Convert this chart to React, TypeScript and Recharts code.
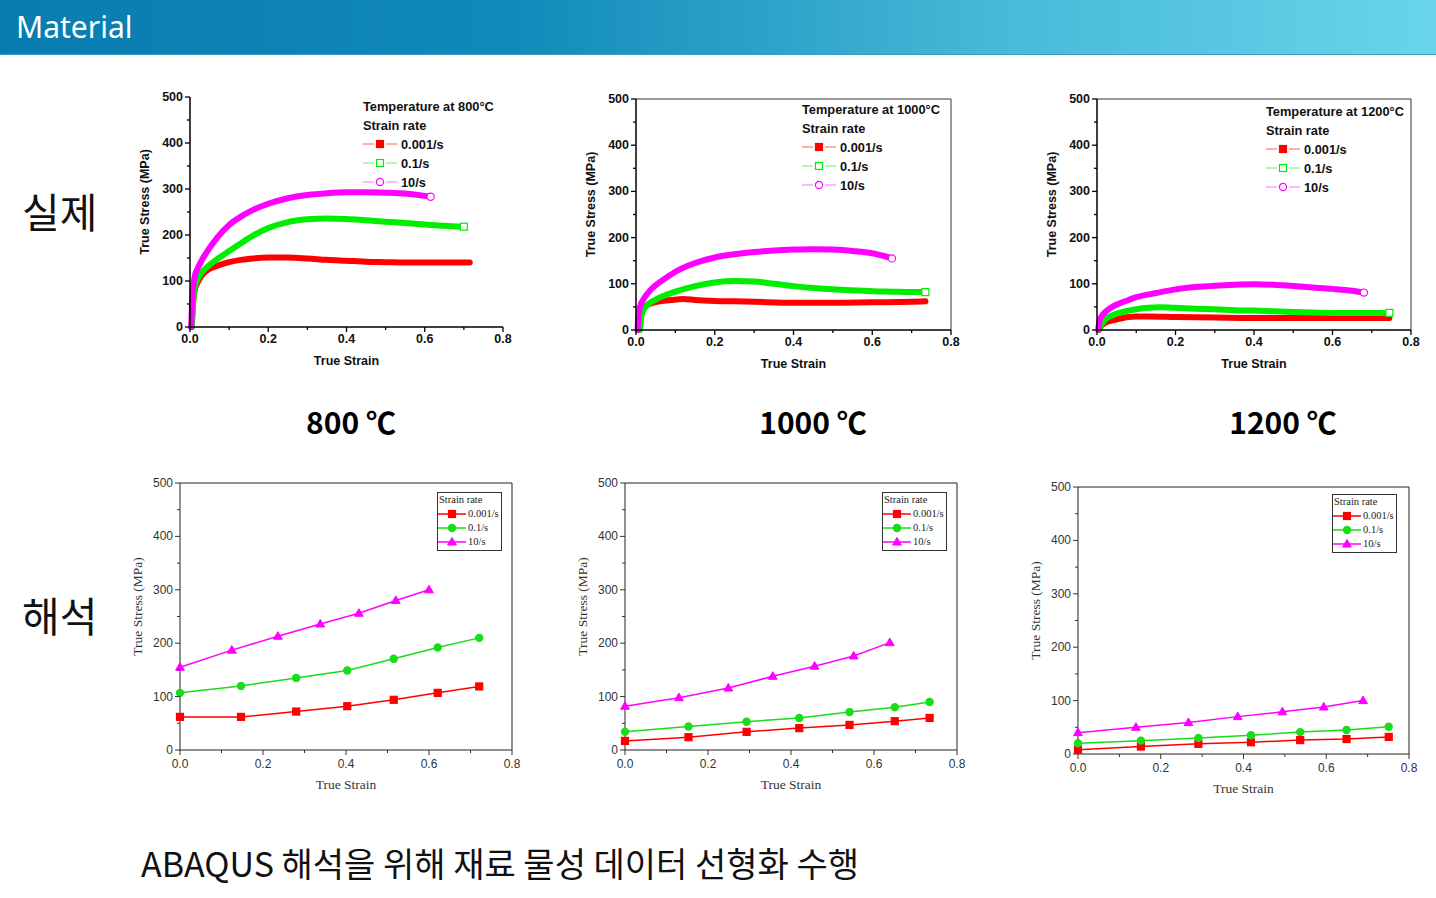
import React from "react";
import { LineChart, Line, XAxis, YAxis, ReferenceLine } from "recharts";

type Pair = [number, number];
type Mark = "square" | "circle" | "triangle";

// axes
const STRAIN_TICKS = [0, 0.1, 0.2, 0.3, 0.4, 0.5, 0.6, 0.7, 0.8];
const STRESS_TICKS = [0, 50, 100, 150, 200, 250, 300, 350, 400, 450, 500];
const RATE_LABELS = ["0.001/s", "0.1/s", "10/s"];
const TEMPS = ["800", "1000", "1200"];

// measured flow curves (true strain, true stress MPa)
const exp800Slow: Pair[] = [
  [0.004, 0], [0.008, 55], [0.012, 80], [0.02, 98], [0.03, 112], [0.045, 124], [0.06, 130],
  [0.08, 136], [0.1, 141], [0.13, 146], [0.16, 149], [0.2, 151], [0.25, 151], [0.3, 149],
  [0.35, 146], [0.4, 144], [0.45, 142], [0.5, 141], [0.55, 140], [0.6, 140], [0.65, 140], [0.715, 140],
];
const exp800Mid: Pair[] = [
  [0.005, 0], [0.008, 50], [0.012, 85], [0.02, 105], [0.03, 118], [0.05, 135], [0.07, 148],
  [0.1, 165], [0.13, 182], [0.16, 198], [0.2, 215], [0.25, 228], [0.3, 234], [0.35, 236],
  [0.4, 235], [0.45, 232], [0.5, 229], [0.55, 226], [0.6, 223], [0.65, 220], [0.7, 218],
];
const exp800Fast: Pair[] = [
  [0.003, 0], [0.005, 45], [0.008, 85], [0.012, 110], [0.02, 128], [0.03, 145], [0.05, 172],
  [0.07, 195], [0.1, 222], [0.13, 240], [0.16, 254], [0.2, 268], [0.25, 280], [0.3, 287],
  [0.35, 291], [0.4, 293], [0.45, 293], [0.5, 292], [0.55, 290], [0.6, 285], [0.615, 283],
];
const exp1000Slow: Pair[] = [
  [0.005, 0], [0.01, 25], [0.015, 42], [0.025, 52], [0.04, 58], [0.06, 62], [0.09, 65],
  [0.12, 67], [0.15, 65], [0.2, 63], [0.25, 62], [0.3, 61], [0.4, 59], [0.5, 59], [0.6, 60],
  [0.7, 61], [0.735, 62],
];
const exp1000Mid: Pair[] = [
  [0.01, 0], [0.013, 25], [0.018, 42], [0.03, 55], [0.05, 66], [0.08, 77], [0.1, 83],
  [0.15, 95], [0.2, 103], [0.25, 106], [0.3, 105], [0.35, 100], [0.4, 95], [0.45, 91],
  [0.5, 88], [0.55, 86], [0.6, 84], [0.65, 83], [0.7, 82], [0.735, 82],
];
const exp1000Fast: Pair[] = [
  [0.004, 0], [0.006, 30], [0.01, 50], [0.02, 68], [0.035, 85], [0.05, 97], [0.08, 115],
  [0.1, 126], [0.15, 145], [0.2, 157], [0.25, 164], [0.3, 169], [0.35, 172], [0.4, 174],
  [0.45, 175], [0.5, 174], [0.55, 171], [0.6, 166], [0.65, 155],
];
const exp1200Slow: Pair[] = [
  [0.005, 0], [0.01, 8], [0.02, 15], [0.04, 21], [0.06, 25], [0.08, 28], [0.1, 29],
  [0.13, 29], [0.2, 28], [0.3, 27], [0.4, 26], [0.5, 26], [0.6, 26], [0.7, 26], [0.745, 26],
];
const exp1200Mid: Pair[] = [
  [0.005, 0], [0.01, 10], [0.02, 22], [0.04, 32], [0.07, 40], [0.1, 45], [0.13, 48],
  [0.16, 49], [0.2, 48], [0.25, 46], [0.3, 45], [0.35, 43], [0.4, 42], [0.5, 39], [0.6, 37],
  [0.7, 37], [0.745, 37],
];
const exp1200Fast: Pair[] = [
  [0.003, 0], [0.006, 18], [0.012, 30], [0.02, 38], [0.035, 48], [0.05, 55], [0.08, 65],
  [0.1, 71], [0.15, 80], [0.2, 88], [0.25, 93], [0.3, 96], [0.35, 98], [0.4, 99], [0.45, 98],
  [0.5, 95], [0.55, 92], [0.6, 89], [0.65, 85], [0.68, 81],
];

// linearised input for ABAQUS
const sim800Slow: Pair[] = [[0, 62], [0.147, 62], [0.28, 72], [0.403, 82], [0.515, 94], [0.621, 107], [0.721, 119]];
const sim800Mid: Pair[] = [[0, 107], [0.147, 120], [0.28, 135], [0.403, 149], [0.515, 171], [0.621, 192], [0.721, 210]];
const sim800Fast: Pair[] = [[0, 155], [0.125, 187], [0.236, 213], [0.338, 236], [0.431, 256], [0.52, 280], [0.6, 300]];
const sim1000Slow: Pair[] = [[0, 17], [0.153, 24], [0.293, 34], [0.42, 41], [0.541, 47], [0.65, 54], [0.734, 60]];
const sim1000Mid: Pair[] = [[0, 34], [0.153, 44], [0.293, 53], [0.42, 60], [0.541, 71], [0.65, 80], [0.734, 90]];
const sim1000Fast: Pair[] = [[0, 82], [0.13, 98], [0.249, 116], [0.356, 138], [0.457, 157], [0.551, 176], [0.638, 201]];
const sim1200Slow: Pair[] = [[0, 8], [0.152, 14], [0.291, 19], [0.418, 22], [0.537, 26], [0.649, 28], [0.751, 32]];
const sim1200Mid: Pair[] = [[0, 20], [0.152, 25], [0.291, 30], [0.418, 35], [0.537, 41], [0.649, 45], [0.751, 51]];
const sim1200Fast: Pair[] = [[0, 40], [0.14, 50], [0.267, 59], [0.386, 70], [0.494, 79], [0.594, 88], [0.689, 100]];

const RED = "#ff0000";
const GREEN = "#00ee00";
const MAGENTA = "#ff00ff";
const SIM_GREEN = "#19dd19";

const SANS = '"Liberation Sans", Arial, sans-serif';
const SERIF = '"Liberation Serif", "Times New Roman", serif';
const KR = '"Noto Sans CJK KR", "Noto Sans", sans-serif';

const EXP_TEXT = { fontFamily: SANS, fontWeight: 700, fontSize: 12.5, fill: "#111" };
const SIM_TICK_TEXT = { fontFamily: SANS, fontSize: 12, fill: "#333" };
const SIM_TITLE_TEXT = { fontFamily: SERIF, fontSize: 13.5, fill: "#333" };

const ML = 70;
const MT = 10;
const MR = 20;
const XH = 50;

interface SeriesDef {
  color: string;
  pairs: Pair[];
  mark: Mark;
}

const toPts = (pairs: Pair[]) => pairs.map(([x, y]) => ({ x, y }));

function StrainTick(props: any) {
  const { x, y, payload, sim } = props;
  const v = payload.value as number;
  const major = Math.round(v * 10) % 2 === 0;
  const len = major ? 5 : 3;
  return (
    <g>
      <line x1={x} x2={x} y1={y} y2={y + len} stroke={sim ? "#333" : "#000"} strokeWidth={sim ? 1 : 1.3} />
      {major && (
        <text x={x} y={y + (sim ? 14 : 12)} textAnchor="middle" dominantBaseline="central" style={sim ? SIM_TICK_TEXT : EXP_TEXT}>
          {v.toFixed(1)}
        </text>
      )}
    </g>
  );
}

function StressTick(props: any) {
  const { x, y, payload, sim } = props;
  const v = payload.value as number;
  const major = v % 100 === 0;
  const len = major ? 5 : 3;
  return (
    <g>
      <line x1={x - len} x2={x} y1={y} y2={y} stroke={sim ? "#333" : "#000"} strokeWidth={sim ? 1 : 1.3} />
      {major && (
        <text x={x - 7} y={y} textAnchor="end" dominantBaseline="central" style={sim ? SIM_TICK_TEXT : EXP_TEXT}>
          {v}
        </text>
      )}
    </g>
  );
}

function drawMark(mark: Mark, cx: number, cy: number, color: string, open: boolean, key?: any) {
  const fill = open ? "#fff" : color;
  if (mark === "square")
    return <rect key={key} x={cx - 3.5} y={cy - 3.5} width={7} height={7} fill={fill} stroke={color} strokeWidth={1.2} />;
  if (mark === "circle") return <circle key={key} cx={cx} cy={cy} r={3.6} fill={fill} stroke={color} strokeWidth={1.2} />;
  return (
    <path key={key} d={`M${cx},${cy - 4.6}L${cx + 4.4},${cy + 3}L${cx - 4.4},${cy + 3}Z`} fill={fill} stroke={color} strokeWidth={1} />
  );
}

function Panel({ box, series, sim, frame }: { box: number[]; series: SeriesDef[]; sim: boolean; frame: boolean }) {
  const [px, py, pw, ph] = box;
  const axisColor = sim ? "#222" : "#000";
  const titleStyle = sim ? SIM_TITLE_TEXT : EXP_TEXT;
  return (
    <div style={{ position: "absolute", left: px - ML, top: py - MT }}>
      <LineChart width={pw + ML + MR} height={ph + MT + XH} margin={{ top: MT, right: MR, left: 0, bottom: 0 }}>
        <XAxis
          dataKey="x"
          type="number"
          domain={[0, 0.8]}
          ticks={STRAIN_TICKS}
          interval={0}
          height={XH}
          tickSize={0}
          tickMargin={0}
          tickLine={false}
          axisLine={{ stroke: axisColor, strokeWidth: sim ? 1 : 1.5 }}
          tick={<StrainTick sim={sim} />}
          label={() => (
            <text x={ML + pw / 2} y={MT + ph + 34} textAnchor="middle" dominantBaseline="central" style={titleStyle}>
              True Strain
            </text>
          )}
        />
        <YAxis
          type="number"
          domain={[0, 500]}
          ticks={STRESS_TICKS}
          interval={0}
          width={ML}
          tickSize={0}
          tickMargin={0}
          tickLine={false}
          axisLine={{ stroke: axisColor, strokeWidth: sim ? 1 : 1.5 }}
          tick={<StressTick sim={sim} />}
          label={() => {
            const cx = ML - (sim ? 43 : 45);
            const cy = MT + ph / 2 - 10;
            return (
              <text x={cx} y={cy} transform={`rotate(-90 ${cx} ${cy})`} textAnchor="middle" dominantBaseline="central" style={titleStyle}>
                True Stress (MPa)
              </text>
            );
          }}
        />
        {frame && <ReferenceLine y={500} stroke={sim ? "#222" : "#333"} strokeWidth={1} />}
        {frame && <ReferenceLine x={0.8} stroke={sim ? "#222" : "#333"} strokeWidth={1} />}
        {series.map((s, i) => {
          const last = s.pairs.length - 1;
          return (
            <Line
              key={i}
              data={toPts(s.pairs)}
              dataKey="y"
              type={sim ? "linear" : "monotone"}
              stroke={s.color}
              strokeWidth={sim ? 1.5 : 6}
              strokeLinecap="round"
              isAnimationActive={false}
              activeDot={false}
              dot={(p: any) => {
                if (sim) return drawMark(s.mark, p.cx, p.cy, s.color, false, p.index);
                if (p.index !== last || (s.mark === "square" && s.color === RED)) return <g key={p.index} />;
                return drawMark(s.mark, p.cx, p.cy, s.color, true, p.index);
              }}
            />
          );
        })}
      </LineChart>
    </div>
  );
}

function ExpLegend({ x, y, temp }: { x: number; y: number; temp: string }) {
  const items: [string, string, Mark, boolean][] = [
    [RED, "#ff5a5a", "square", false],
    [GREEN, "#66ee66", "square", true],
    [MAGENTA, "#ff70ff", "circle", true],
  ];
  return (
    <div style={{ position: "absolute", left: x, top: y - 9.5, fontFamily: SANS, fontWeight: 700, fontSize: 12.8, color: "#111", lineHeight: "19px", whiteSpace: "nowrap" }}>
      <div>Temperature at {temp}°C</div>
      <div>Strain rate</div>
      {items.map(([c, light, m, open], i) => (
        <div key={i} style={{ display: "flex", alignItems: "center", height: 19 }}>
          <svg width={34} height={10}>
            <line x1={0} x2={11} y1={5} y2={5} stroke={light} strokeWidth={1} />
            <line x1={23} x2={34} y1={5} y2={5} stroke={light} strokeWidth={1} />
            {drawMark(m, 17, 5, c, open)}
          </svg>
          <span style={{ marginLeft: 4 }}>{RATE_LABELS[i]}</span>
        </div>
      ))}
    </div>
  );
}

function SimLegend({ x, y }: { x: number; y: number }) {
  const items: [string, Mark][] = [
    [RED, "square"],
    [SIM_GREEN, "circle"],
    [MAGENTA, "triangle"],
  ];
  return (
    <div style={{ position: "absolute", left: x, top: y, width: 63, height: 57, border: "1px solid #333", background: "#fff", fontFamily: SERIF, fontSize: 10.5, color: "#222", lineHeight: "14px", whiteSpace: "nowrap" }}>
      <div style={{ paddingLeft: 1 }}>Strain rate</div>
      {items.map(([c, m], i) => (
        <div key={i} style={{ display: "flex", alignItems: "center", height: 14 }}>
          <svg width={29} height={10}>
            <line x1={0} x2={28} y1={5} y2={5} stroke={c} strokeWidth={1.5} />
            {drawMark(m, 14, 5, c, false)}
          </svg>
          <span style={{ marginLeft: 1 }}>{RATE_LABELS[i]}</span>
        </div>
      ))}
    </div>
  );
}

const expSeries = (slow: Pair[], mid: Pair[], fast: Pair[]): SeriesDef[] => [
  { color: RED, pairs: slow, mark: "square" },
  { color: GREEN, pairs: mid, mark: "square" },
  { color: MAGENTA, pairs: fast, mark: "circle" },
];
const simSeries = (slow: Pair[], mid: Pair[], fast: Pair[]): SeriesDef[] => [
  { color: RED, pairs: slow, mark: "square" },
  { color: SIM_GREEN, pairs: mid, mark: "circle" },
  { color: MAGENTA, pairs: fast, mark: "triangle" },
];

export default function App() {
  return (
    <div style={{ position: "absolute", left: 0, top: 0, width: 1436, height: 898, background: "#fff", overflow: "hidden" }}>
      <div
        style={{
          position: "absolute", left: 0, top: 0, width: 1436, height: 54,
          background: "linear-gradient(90deg, #087cae 0%, #1089b9 35%, #47bad8 70%, #68d5eb 100%)",
          borderBottom: "1px solid #3a9cc4",
        }}
      />
      <div style={{ position: "absolute", left: 16, top: 12, fontFamily: '"Noto Sans", "Open Sans", sans-serif', fontSize: 30, lineHeight: "30px", color: "#fff" }}>
        Material
      </div>

      <div style={{ position: "absolute", left: 22, top: 190, fontFamily: KR, fontSize: 41, lineHeight: "41px", color: "#111" }}>실제</div>
      <div style={{ position: "absolute", left: 22, top: 594, fontFamily: KR, fontSize: 41, lineHeight: "41px", color: "#111" }}>해석</div>

      {[351, 813, 1283].map((cx, i) => (
        <div key={i} style={{ position: "absolute", left: cx - 100, width: 200, top: 406, textAlign: "center", fontFamily: KR, fontWeight: 700, fontSize: 30, lineHeight: "30px", color: "#000" }}>
          {TEMPS[i]} ℃
        </div>
      ))}

      <Panel box={[190, 97, 313, 230]} series={expSeries(exp800Slow, exp800Mid, exp800Fast)} sim={false} frame={false} />
      <Panel box={[636, 99, 315, 231]} series={expSeries(exp1000Slow, exp1000Mid, exp1000Fast)} sim={false} frame={true} />
      <Panel box={[1097, 99, 314, 231]} series={expSeries(exp1200Slow, exp1200Mid, exp1200Fast)} sim={false} frame={true} />
      <ExpLegend x={363} y={106} temp="800" />
      <ExpLegend x={802} y={109} temp="1000" />
      <ExpLegend x={1266} y={111} temp="1200" />

      <Panel box={[180, 483, 332, 267]} series={simSeries(sim800Slow, sim800Mid, sim800Fast)} sim={true} frame={true} />
      <Panel box={[625, 483, 332, 267]} series={simSeries(sim1000Slow, sim1000Mid, sim1000Fast)} sim={true} frame={true} />
      <Panel box={[1078, 487, 331, 267]} series={simSeries(sim1200Slow, sim1200Mid, sim1200Fast)} sim={true} frame={true} />
      <SimLegend x={437} y={492} />
      <SimLegend x={882} y={492} />
      <SimLegend x={1332} y={494} />

      <div style={{ position: "absolute", left: 141, top: 846, fontFamily: KR, fontSize: 34, lineHeight: "34px", color: "#111", whiteSpace: "nowrap" }}>
        ABAQUS 해석을 위해 재료 물성 데이터 선형화 수행
      </div>
    </div>
  );
}
